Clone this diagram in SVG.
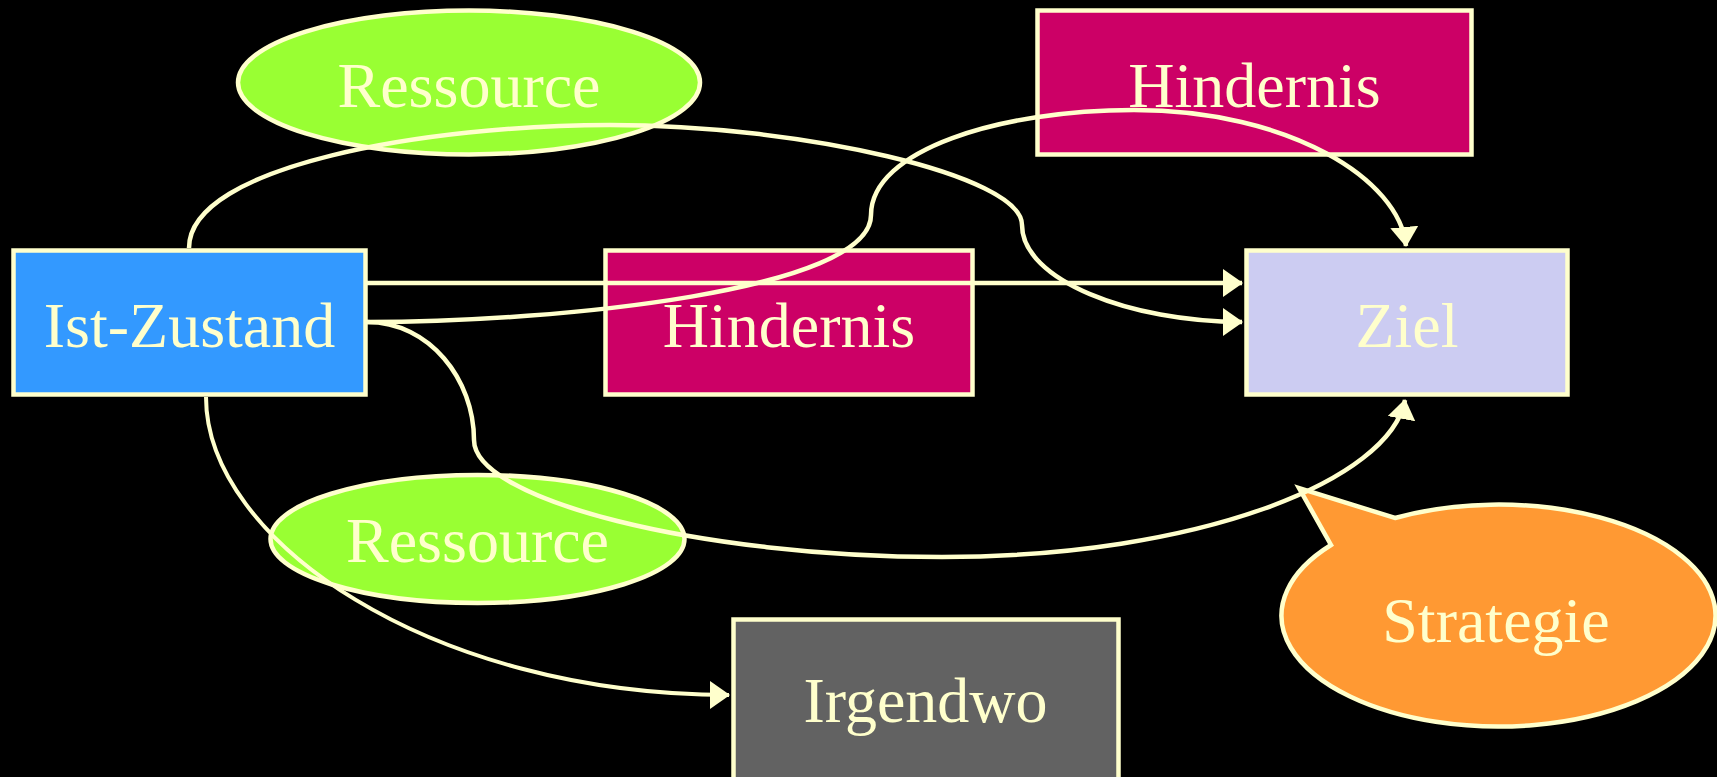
<svg xmlns="http://www.w3.org/2000/svg" width="1717" height="777" viewBox="0 0 1717 777">
<style>
.node{stroke:#FFFFCC;stroke-width:4.5}
.lbl{font-family:"Liberation Serif","Times New Roman",serif;font-size:64px;fill:#FFFFCC;text-anchor:middle}
.conn{fill:none;stroke:#FFFFCC;stroke-width:4.5}
</style>
<defs>
<marker id="arr" markerUnits="userSpaceOnUse" markerWidth="22" markerHeight="30" refX="19" refY="14" orient="auto" viewBox="0 0 22 30">
<path d="M0,0 L20,14 L0,28 z" fill="#FFFFCC"/>
</marker>
</defs>
<rect width="1717" height="777" fill="#000000"/>
<g id="ressource-top">
<ellipse class="node" cx="469" cy="82.5" rx="231" ry="72" fill="#99FF33"/>
<text class="lbl" x="469" y="107">Ressource</text>
</g>
<g id="hindernis-top">
<rect class="node" x="1037.5" y="10.5" width="434" height="144" fill="#CC0066"/>
<text class="lbl" x="1254.5" y="107">Hindernis</text>
</g>
<g id="ist-zustand">
<rect class="node" x="13.5" y="250.5" width="352" height="144" fill="#3399FF"/>
<text class="lbl" x="189.5" y="347">Ist-Zustand</text>
</g>
<g id="hindernis-mid">
<rect class="node" x="605.5" y="250.5" width="367" height="144" fill="#CC0066"/>
<text class="lbl" x="789" y="347">Hindernis</text>
</g>
<g id="ziel">
<rect class="node" x="1246.5" y="250.5" width="321" height="144" fill="#CCCCF2"/>
<text class="lbl" x="1407" y="347">Ziel</text>
</g>
<g id="ressource-bottom">
<ellipse class="node" cx="477.5" cy="539" rx="207" ry="64" fill="#99FF33"/>
<text class="lbl" x="477.5" y="562">Ressource</text>
</g>
<g id="irgendwo">
<rect class="node" x="733.5" y="619.5" width="385" height="180" fill="#626262"/>
<text class="lbl" x="925.5" y="722">Irgendwo</text>
</g>
<g id="strategie">
<path class="node" d="M1331,545 L1299,488 L1395,518 A217,111 0 1 1 1331,545 Z" fill="#FF9933"/>
<text class="lbl" x="1496" y="642">Strategie</text>
</g>
<g id="connectors">
<path class="conn" d="M189,248 C189,165 430,125 610,125 C800,125 1022,175 1022,225 C1022,280 1130,322 1242,322" marker-end="url(#arr)"/>
<line class="conn" x1="367" y1="283" x2="1242" y2="283" marker-end="url(#arr)"/>
<path class="conn" d="M367,322 C560,322 871,290 871,215 C871,150 1000,110 1134,110 C1290,110 1400,180 1406,246" marker-end="url(#arr)"/>
<path class="conn" d="M367,322 C430,322 474,380 474,440 C474,500 700,557 942,557 C1200,557 1390,480 1405,400" marker-end="url(#arr)"/>
<path class="conn" d="M206,397 C206,540 430,695 729,695" marker-end="url(#arr)" style="stroke-width:4"/>
</g>
</svg>
